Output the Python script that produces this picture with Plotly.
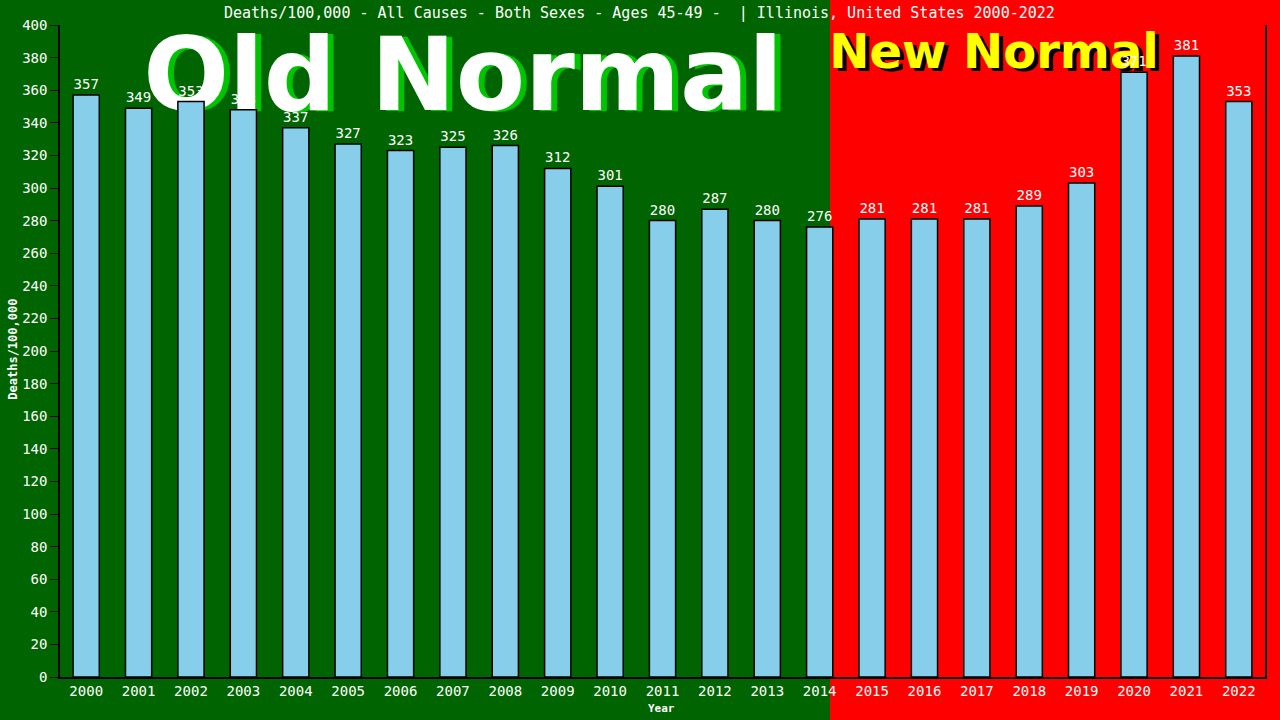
import plotly.graph_objects as go

# data
years = [str(y) for y in range(2000, 2023)]
deaths = [357, 349, 353, 348, 337, 327, 323, 325, 326, 312, 301, 280,
          287, 280, 276, 281, 281, 281, 289, 303, 371, 381, 353]
y_ticks = list(range(0, 401, 20))

title_txt = "Deaths/100,000 - All Causes - Both Sexes - Ages 45-49 -  | Illinois, United States 2000-2022"

GREEN = "#006400"
RED = "#FF0000"
mono = "DejaVu Sans Mono"

fig = go.Figure()

# big "Old Normal" / "New Normal" texts sit behind the bars, so they go on the
# base (hidden) axes, measured in pixels of the plot area
def big_text(txt, x, y, size, color, shadow, dx, dy):
    for xx, yy, col in [(x + dx, y + dy, shadow), (x, y, color)]:
        fig.add_trace(go.Scatter(
            x=[xx], y=[yy], mode="text", text=[txt],
            textposition="middle center",
            textfont=dict(family="DejaVu Sans", size=size, color=col, weight="bold"),
            cliponaxis=False, hoverinfo="skip", showlegend=False,
            xaxis="x", yaxis="y"))

big_text("Old Normal", 463, 85, 101, "white", "#00C400", 6, 1)
big_text("New Normal", 994, 56, 48, "#FFFF00", "black", 4, 3)

# bars on overlaying axes so they draw on top of the big texts
fig.add_trace(go.Bar(
    x=years, y=deaths,
    width=0.5,
    marker=dict(color="#87CEEB", line=dict(color="black", width=1.5)),
    text=[str(v) for v in deaths],
    textposition="outside",
    textfont=dict(family=mono, size=14, color="white"),
    cliponaxis=False,
    showlegend=False,
    xaxis="x2", yaxis="y2",
))

# left side green, right side red (split just after 2014)
split = (830 - 60) / 1205
fig.add_shape(type="rect", xref="paper", yref="paper",
              x0=-0.1, x1=split, y0=-0.2, y1=1.2,
              fillcolor=GREEN, line=dict(width=0), layer="below")

# title and axis titles
fig.add_annotation(text=title_txt, xref="paper", yref="paper", x=0.481, y=1.019,
                   xanchor="center", yanchor="middle", showarrow=False,
                   font=dict(family=mono, size=15, color="white"))
fig.add_annotation(text="<b>Deaths/100,000</b>", xref="paper", yref="paper",
                   x=-0.039, y=0.502, xanchor="center", yanchor="middle",
                   textangle=-90, showarrow=False,
                   font=dict(family=mono, size=12, color="white"))
fig.add_annotation(text="<b>Year</b>", xref="paper", yref="paper",
                   x=0.499, y=-0.049, xanchor="center", yanchor="middle",
                   showarrow=False,
                   font=dict(family=mono, size=11, color="white"))

fig.update_layout(
    width=1280, height=720,
    margin=dict(l=60, r=15, t=25, b=43),
    paper_bgcolor=RED,
    plot_bgcolor="rgba(0,0,0,0)",
    xaxis=dict(range=[60, 1265], visible=False, fixedrange=True),
    yaxis=dict(range=[677, 25], visible=False, fixedrange=True),
    xaxis2=dict(overlaying="x", anchor="y2", showline=True, linecolor="black",
                linewidth=1.5, ticks="", showgrid=False, range=[-0.5, 22.5],
                tickfont=dict(family=mono, size=14, color="white")),
    yaxis2=dict(overlaying="y", anchor="x2", range=[0, 400], tickvals=y_ticks,
                showgrid=False, zeroline=False, showline=True, linecolor="black",
                linewidth=1.5, mirror=True, ticks="outside", ticklen=8,
                tickcolor="black",
                tickfont=dict(family=mono, size=14, color="white")),
)

fig.write_html("out.html", config={"displayModeBar": False},
               post_script="document.body.style.margin='0';")
